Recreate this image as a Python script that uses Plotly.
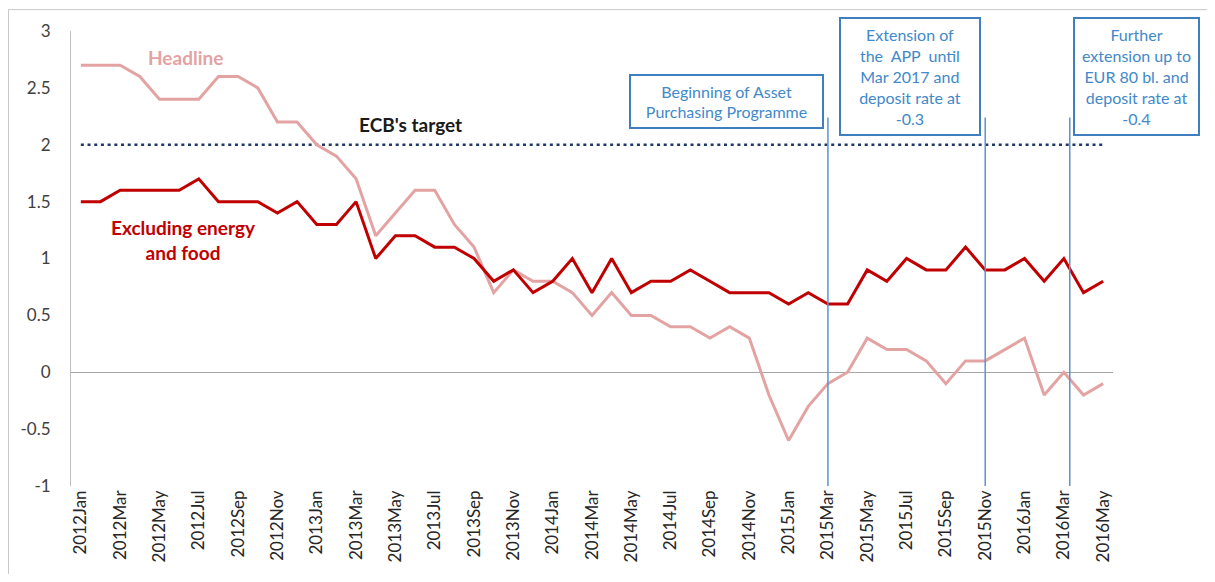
import plotly.graph_objs as go

YEARS = [2012, 2013, 2014, 2015, 2016]
MONTH_NAMES = ['Jan', 'Feb', 'Mar', 'Apr', 'May', 'Jun', 'Jul', 'Aug', 'Sep', 'Oct', 'Nov', 'Dec']
months = [str(y) + m for y in YEARS for m in MONTH_NAMES][:53]  # 2012Jan .. 2016May

headline = [2.7, 2.7, 2.7, 2.6, 2.4, 2.4, 2.4, 2.6, 2.6, 2.5, 2.2, 2.2,
            2.0, 1.9, 1.7, 1.2, 1.4, 1.6, 1.6, 1.3, 1.1, 0.7, 0.9, 0.8,
            0.8, 0.7, 0.5, 0.7, 0.5, 0.5, 0.4, 0.4, 0.3, 0.4, 0.3, -0.2,
            -0.6, -0.3, -0.1, 0.0, 0.3, 0.2, 0.2, 0.1, -0.1, 0.1, 0.1, 0.2,
            0.3, -0.2, 0.0, -0.2, -0.1]

core = [1.5, 1.5, 1.6, 1.6, 1.6, 1.6, 1.7, 1.5, 1.5, 1.5, 1.4, 1.5,
        1.3, 1.3, 1.5, 1.0, 1.2, 1.2, 1.1, 1.1, 1.0, 0.8, 0.9, 0.7,
        0.8, 1.0, 0.7, 1.0, 0.7, 0.8, 0.8, 0.9, 0.8, 0.7, 0.7, 0.7,
        0.6, 0.7, 0.6, 0.6, 0.9, 0.8, 1.0, 0.9, 0.9, 1.1, 0.9, 0.9,
        1.0, 0.8, 1.0, 0.7, 0.8]

ecb_target = 2.0
y_ticks = [-1, -0.5, 0, 0.5, 1, 1.5, 2, 2.5, 3]

# policy events (month index where the vertical marker sits)
event_x = [38, 46, 50.3]
event_texts = ["Beginning of Asset<br>Purchasing Programme",
               "Extension of<br>the  APP  until<br>Mar 2017 and<br>deposit rate at<br>-0.3",
               "Further<br>extension up to<br>EUR 80 bl. and<br>deposit rate at<br>-0.4"]

FONT = "Lato, 'Open Sans', sans-serif"
PINK = '#e3a3a3'
DARK_RED = '#c00000'
BLUE_TXT = '#4289ca'
BLUE_LINE = '#5e92d2'

x = list(range(len(months)))

fig = go.Figure()

fig.add_trace(go.Scatter(x=[0, len(months) - 1], y=[ecb_target, ecb_target], mode='lines',
                         line=dict(color='#1f3864', width=2.5, dash='3px,3.7px'),
                         name="ECB's target"))
fig.add_trace(go.Scatter(x=x, y=headline, mode='lines', line=dict(color=PINK, width=3), name='Headline'))
fig.add_trace(go.Scatter(x=x, y=core, mode='lines', line=dict(color=DARK_RED, width=3),
                         name='Excluding energy and food'))

# vertical markers for ECB decisions
for ex in event_x:
    fig.add_shape(type='line', x0=ex, x1=ex, y0=-1.06, y1=2.24, xref='x', yref='y',
                  line=dict(color=BLUE_LINE, width=1.5))

# outer frame of the picture
fig.add_shape(type='rect', xref='paper', yref='paper', x0=-0.0600, x1=1.12, y0=-0.3, y1=1.047,
              line=dict(color='#c8c8c8', width=1))

# series labels
fig.add_annotation(x=5.3, y=2.77, text='<b>Headline</b>', showarrow=False,
                   font=dict(family=FONT, size=19, color=PINK))
fig.add_annotation(x=16.75, y=2.18, text="<b>ECB's target</b>", showarrow=False,
                   font=dict(family=FONT, size=19, color='#1a1a1a'))
fig.add_annotation(x=5.2, y=1.165, text='<b>Excluding energy<br>and food</b>', showarrow=False,
                   font=dict(family=FONT, size=19, color=DARK_RED))

# event boxes in paper coords: (left, top, width px, height px)
boxes = [(0.5355, 0.906, 191, 51), (0.737, 1.0306, 138, 115), (0.9616, 1.0306, 123, 115)]
for (bx, by, bw, bh), txt in zip(boxes, event_texts):
    fig.add_annotation(x=bx, y=by, xref='paper', yref='paper', xanchor='left', yanchor='top',
                       text=txt, showarrow=False, width=bw, height=bh, align='center', valign='middle',
                       bordercolor='#3f7fc0', borderwidth=2, borderpad=0, bgcolor='white',
                       font=dict(family=FONT, size=16, color=BLUE_TXT))

fig.update_xaxes(range=[-0.5, len(months) - 0.5], tickvals=x[::2], ticktext=months[::2],
                 tickangle=-90, showgrid=False, zeroline=False, showline=False, ticks='',
                 tickfont=dict(family=FONT, size=17, color='#262626'))
fig.update_yaxes(range=[-1, 3], tickvals=y_ticks, ticktext=[f'{v:g}' for v in y_ticks],
                 showgrid=False, zeroline=True, zerolinecolor='#a6a6a6', zerolinewidth=1,
                 showline=True, linecolor='#bfbfbf', linewidth=1, ticks='', ticklabelstandoff=16,
                 tickfont=dict(family=FONT, size=17, color='#404040'))

# page has an 8px body margin, so keep the figure inside the window
fig.update_layout(width=1199, height=566, margin=dict(l=63, r=94, t=23, b=86),
                  plot_bgcolor='white', paper_bgcolor='white', showlegend=False)

fig.write_html("out.html")
